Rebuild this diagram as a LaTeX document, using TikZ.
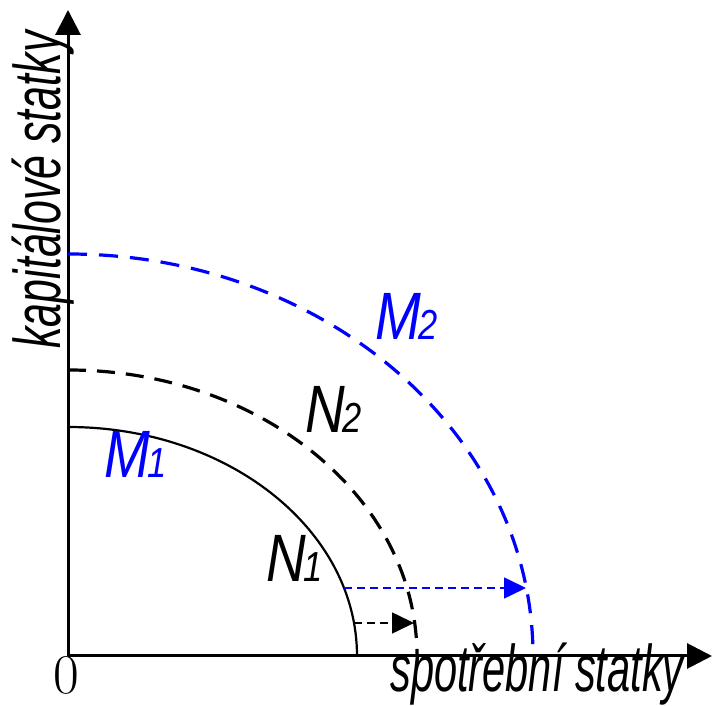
\documentclass[tikz,border=0pt]{standalone}
\usepackage{fontspec}
\usepackage{graphicx}
\usetikzlibrary{arrows.meta}
\newfontfamily\arial{Liberation Sans}
\newcommand{\curvelab}[2]{\scalebox{0.82}[1]{#1\kern-0.04em{\fontsize{42}{42}\selectfont #2}}}
\tikzset{
  axis/.style={line width=3pt, -{Triangle[length=25pt,width=25pt]}},
  shiftarrow/.style={line width=1.6pt, dash pattern=on 8pt off 5pt, -{Triangle[length=22pt,width=21pt]}},
  curvetext/.style={font=\arial\itshape\fontsize{67}{67}\selectfont, anchor=base west, inner sep=0pt},
  axistext/.style={font=\arial\itshape\fontsize{66}{66}\selectfont, anchor=base, inner sep=0pt}
}
\begin{document}
\begin{tikzpicture}[x=1pt, y=1pt]
    \useasboundingbox (0,0) rectangle (712,706);

    % Axes
    \coordinate (O) at (68,50);
    \coordinate (ytop) at (68,696);
    \coordinate (xend) at (712,50);
    \draw[axis] (O) -- (ytop);
    \draw[axis] (O) -- (xend);
    \node[font=\fontsize{56}{56}\selectfont, inner sep=0pt] (zero) at (66,31) {0};

    % Axis labels
    \node[axistext, rotate=90] (ylab) at (61,516) {\scalebox{0.65}[1]{kapitálové statky}};
    \node[axistext] (xlab) at (537,14) {\scalebox{0.63}[1]{spotřební statky}};

    % Curves
    \draw[line width=2.2pt] (68,279) arc[start angle=90, end angle=0, x radius=289pt, y radius=229pt];
    \draw[line width=3.2pt, dash pattern=on 18pt off 11pt] (68,336) arc[start angle=90, end angle=0, x radius=349pt, y radius=286pt];
    \draw[line width=3.2pt, blue, dash pattern=on 19pt off 12pt] (68,452) arc[start angle=90, end angle=0, x radius=465pt, y radius=402pt];

    % Shifts
    \coordinate (s1) at (354,83);
    \coordinate (d1) at (414,83);
    \coordinate (s2) at (344,118);
    \coordinate (d2) at (526,118);
    \draw[shiftarrow] (s1) -- (d1);
    \draw[shiftarrow, blue] (s2) -- (d2);

    % Curve labels
    \node[curvetext, blue] (m1) at (104,228) {\curvelab{M}{1}};
    \node[curvetext, blue] (m2) at (375,366) {\curvelab{M}{2}};
    \node[curvetext] (n1) at (266,124) {\curvelab{N}{1}};
    \node[curvetext] (n2) at (305,273) {\curvelab{N}{2}};
\end{tikzpicture}
\end{document}
